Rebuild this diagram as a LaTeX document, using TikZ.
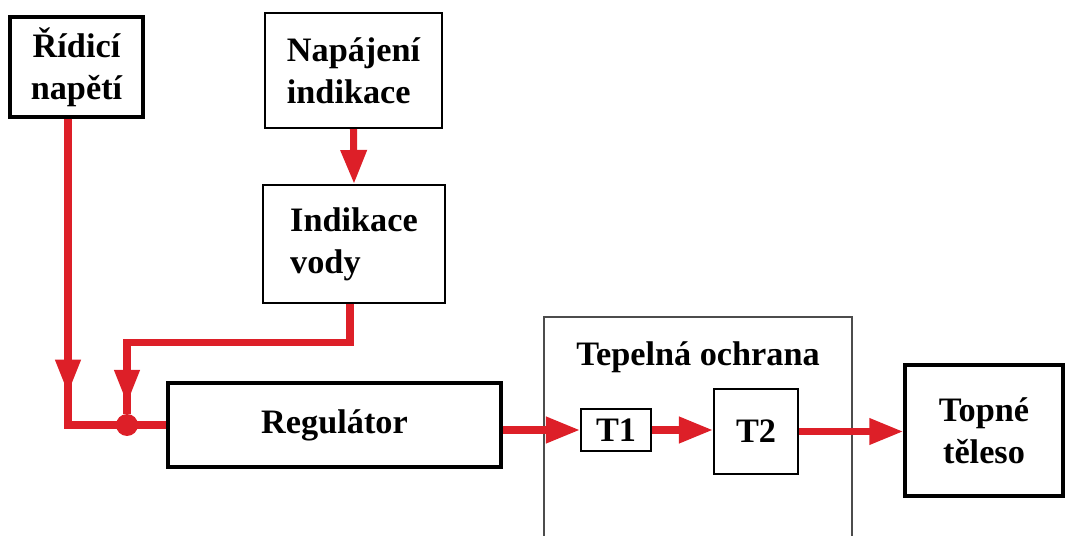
\documentclass[tikz,border=0pt]{standalone}
\usepackage{fontspec}
\setmainfont{Liberation Serif}
\usepackage{xcolor}
\usepackage{tikz}
\usetikzlibrary{arrows.meta,decorations.markings}
\definecolor{wirered}{RGB}{221,31,40}

\begin{document}
\begin{tikzpicture}[x=0.02cm, y=-0.02cm,
    every node/.style={font=\bfseries\fontsize{19.5}{24}\selectfont, inner sep=0pt},
    thickbox/.style={draw=black, line width=2pt, align=center},
    thinbox/.style={draw=black, line width=1.2pt, align=center},
    framebox/.style={draw=black!70, line width=0.8pt},
    wire/.style={draw=wirered, line width=4pt},
    head/.style={-{Triangle[length=0.68cm,width=0.5cm]}},
    midarrow/.style={postaction={decorate}, decoration={markings,
        mark=at position #1 with {\arrow{Triangle[length=0.68cm,width=0.48cm]}}}},
    dot/.style={circle, fill=wirered, minimum size=0.44cm}]
    \useasboundingbox (0,0) rectangle (1067,536);
    \clip (0,0) rectangle (1067,536);
    % bloky
    \node[thickbox, minimum width=2.66cm, minimum height=2cm] (ridici) at (76.5,67) {Řídicí\\napětí};
    \node[thinbox, align=left, minimum width=3.54cm, minimum height=2.3cm] (napajeni) at (353.5,70.5) {Napájení\\indikace};
    \node[thinbox, align=left, minimum width=3.64cm, minimum height=2.36cm] (indikace) at (354,244) {Indikace\\vody};
    \node[thickbox, minimum width=6.66cm, minimum height=1.68cm] (regulator) at (334.5,425) {Regulátor};
    \node[framebox, minimum width=6.16cm, minimum height=4.86cm] (ochrana) at (698,438.5) {};
    \node (ochranatitle) at (698,357) {Tepelná ochrana};
    \node[thinbox, minimum width=1.4cm, minimum height=0.84cm] (T1) at (616,430) {T1};
    \node[thinbox, minimum width=1.68cm, minimum height=1.7cm] (T2) at (756,431.5) {T2};
    \node[thickbox, minimum width=3.16cm, minimum height=2.62cm] (topne) at (984,430.5) {Topné\\těleso};
    \node[dot] (uzel) at (127,425) {};
    % vodice
    \draw[wire, midarrow=5.5cm] ([xshift=-0.17cm]ridici.south) |- (regulator.west);
    \draw[wire, midarrow=6.46cm] ([xshift=-0.08cm]indikace.south) -- ++(0,38) -| (uzel);
    \draw[wire, head] (napajeni.south) -- (indikace.north);
    \draw[wire, head] (regulator.east |- T1.west) -- (T1.west);
    \draw[wire, head] (T1.east) -- (T1.east -| T2.west);
    \draw[wire, head] (T2.east) -- (T2.east -| topne.west);
\end{tikzpicture}
\end{document}
